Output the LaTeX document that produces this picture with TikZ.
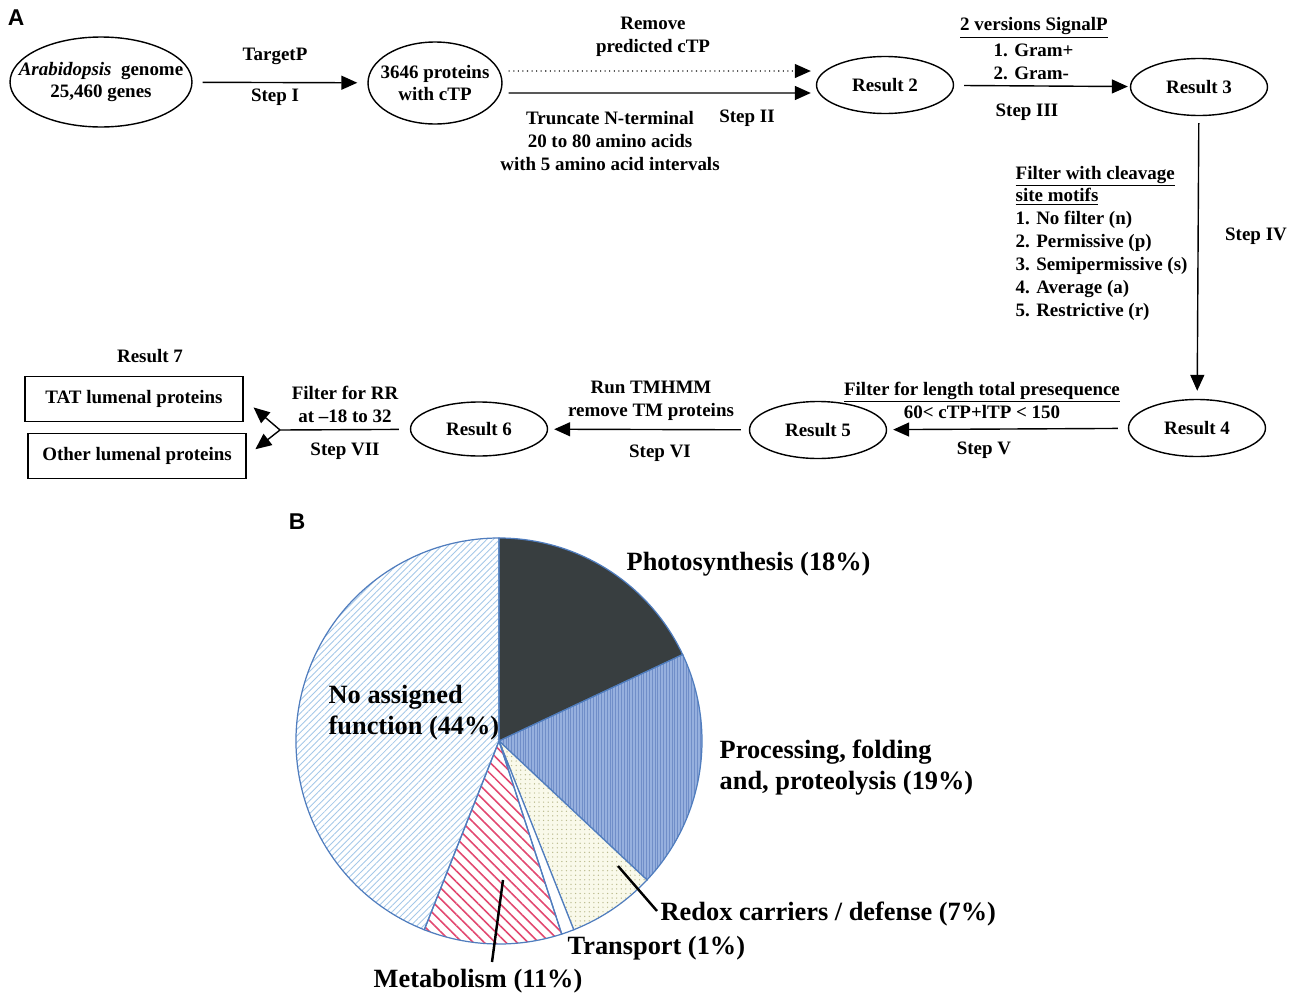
\documentclass[tikz,border=0pt]{standalone}
\usepackage{fontspec}
\setmainfont{Liberation Serif}
\newfontfamily\panelfont{Liberation Sans}
\usetikzlibrary{shapes.geometric, arrows.meta, patterns.meta}
\definecolor{pieedge}{RGB}{80,125,190}
\definecolor{photo}{RGB}{56,62,64}
\definecolor{procfill}{RGB}{150,176,222}
\definecolor{procline}{RGB}{112,142,200}
\definecolor{redoxfill}{RGB}{249,249,234}
\definecolor{redoxdot}{RGB}{185,185,140}
\definecolor{metline}{RGB}{226,72,112}
\definecolor{noline}{RGB}{165,200,232}

\begin{document}
\begin{tikzpicture}[x = 0.02cm, y = -0.02cm, line width = 0.8pt,
    every node/.style = {font = \bfseries\fontsize{10.8}{13}\selectfont, inner sep = 0pt},
    oval/.style = {ellipse, draw, minimum width = 2.74cm, minimum height = 1.14cm},
    tbox/.style = {rectangle, draw, minimum width = 4.36cm, minimum height = 0.9cm},
    arr/.style = {-{Triangle[length = 0.32cm, width = 0.28cm]}},
    pie/.style = {draw = pieedge, line width = 0.7pt},
    pielabel/.style = {font = \bfseries\fontsize{15}{17.6}\selectfont, align = left, anchor = west}]
  \useasboundingbox (0, 0) rectangle (1295, 994);

  % panel A: flow of the screen
  \node at (16, 18) {\panelfont\fontsize{13}{15}\selectfont A};
  \node [oval, minimum width = 3.64cm, minimum height = 1.8cm,
         label = {[align = center]center:{\textit{Arabidopsis}~ genome\\25,460 genes}}] (g1) at (101, 82) {};
  \node [oval, minimum width = 2.68cm, minimum height = 1.64cm,
         label = {[align = center]center:{3646 proteins\\with cTP}}] (c1) at (435, 83) {};
  \node [oval] (r2) at (885, 85) {Result 2};
  \node [oval] (r3) at (1199, 87) {Result 3};
  \node [oval] (r4) at (1197, 428) {Result 4};
  \node [oval] (r5) at (818, 430) {Result 5};
  \node [oval, minimum height = 1.08cm] (r6) at (479, 429) {Result 6};
  \node [tbox] (t1) at (134, 399) {TAT lumenal proteins};
  \node [tbox] (o1) at (137, 456) {Other lumenal proteins};
  \coordinate (s1) at (280, 430);

  \draw [arr, shorten <= 0.2cm, shorten >= 0.2cm] (g1) -- (c1);
  \draw [arr, dotted, line width = 0.6pt, shorten <= 0.12cm, shorten >= 0.1cm]
        ([yshift = 0.24cm]c1.east) -- ([yshift = 0.28cm]r2.west);
  \draw [arr, shorten <= 0.12cm, shorten >= 0.1cm]
        ([yshift = -0.2cm]c1.east) -- ([yshift = -0.16cm]r2.west);
  \draw [arr, shorten <= 0.2cm, shorten >= 0.04cm] (r2) -- (r3);
  \draw [arr, shorten <= 0.14cm, shorten >= 0.16cm] (r3) -- (r4);
  \draw [arr, shorten <= 0.2cm, shorten >= 0.12cm] (r4) -- (r5);
  \draw [arr, shorten <= 0.16cm, shorten >= 0.12cm] (r5) -- (r6);
  \draw [shorten <= 0.22cm] (r6) -- (s1);
  \draw [arr, shorten >= 0.26cm] (s1) -- (t1.east);
  \draw [arr, shorten >= 0.22cm] (s1) -- (o1.east);

  \node at (275, 56) {TargetP};
  \node at (275, 97) {Step I};
  \node [align = center] at (653, 37) {Remove\\predicted cTP};
  \node [align = center] at (610, 141) {Truncate N-terminal\\20 to 80 amino acids\\with 5 amino acid intervals};
  \node at (747, 118) {Step II};
  \node at (1034, 28) {\underline{2 versions SignalP}};
  \node [align = left, anchor = west] at (993, 62) {1. Gram+\\2. Gram-};
  \node at (1027, 112) {Step III};
  \node [align = left, anchor = west] at (1015, 243)
        {\underline{Filter with cleavage}\\\underline{site motifs}\\1. No filter (n)\\2. Permissive (p)\\3. Semipermissive (s)\\4. Average (a)\\5. Restrictive (r)};
  \node at (1256, 236) {Step IV};
  \node [align = center] at (982, 400) {\underline{Filter for length total presequence}\\60< cTP+lTP < 150};
  \node at (984, 450) {Step V};
  \node [align = center] at (651, 401) {Run TMHMM\\remove TM proteins};
  \node at (660, 453) {Step VI};
  \node [align = center] at (345, 404) {Filter for RR\\at --18 to 32};
  \node at (345, 451) {Step VII};
  \node at (150, 356) {Result 7};

  % panel B: pie of functions
  \node at (297, 522) {\panelfont\fontsize{13}{15}\selectfont B};
  \begin{scope}[shift = {(499, 741)}, yscale = -1]
    \draw [pie, fill = photo] (0, 0) -- (90:203) arc [start angle = 90, end angle = 25.2, radius = 203] -- cycle;
    \draw [pie, preaction = {fill = procfill}, pattern = {Lines[angle = 90, distance = 1.6pt, line width = 0.4pt]},
           pattern color = procline] (0, 0) -- (25.2:203) arc [start angle = 25.2, end angle = -43.2, radius = 203] -- cycle;
    \draw [pie, preaction = {fill = redoxfill}, pattern = {Dots[distance = 2.6pt, radius = 0.4pt]},
           pattern color = redoxdot] (0, 0) -- (-43.2:203) arc [start angle = -43.2, end angle = -68.4, radius = 203] -- cycle;
    \draw [pie, fill = white] (0, 0) -- (-68.4:203) arc [start angle = -68.4, end angle = -72, radius = 203] -- cycle;
    \draw [pie, pattern = {Lines[angle = -45, distance = 4.4pt, line width = 0.9pt]},
           pattern color = metline] (0, 0) -- (-72:203) arc [start angle = -72, end angle = -111.6, radius = 203] -- cycle;
    \draw [pie, pattern = {Lines[angle = 45, distance = 2.6pt, line width = 0.5pt]},
           pattern color = noline] (0, 0) -- (-111.6:203) arc [start angle = -111.6, end angle = -270, radius = 203] -- cycle;
  \end{scope}
  \coordinate (x1) at (618, 866);
  \coordinate (x2) at (657, 911);
  \coordinate (m1) at (503, 880);
  \coordinate (m2) at (492, 962);
  \draw [line width = 1.4pt] (x1) -- (x2);
  \draw [line width = 1.4pt] (m1) -- (m2);

  \node [pielabel] (p1) at (626, 564) {Photosynthesis (18\%)};
  \node [pielabel] (p2) at (719, 768) {Processing, folding\\and, proteolysis (19\%)};
  \node [pielabel] (p3) at (660, 914) {Redox carriers / defense (7\%)};
  \node [pielabel] (p4) at (567, 948) {Transport (1\%)};
  \node [pielabel, anchor = center] (p5) at (478, 981) {Metabolism (11\%)};
  \node [pielabel] (p6) at (328, 713) {No assigned\\function (44\%)};
\end{tikzpicture}
\end{document}
